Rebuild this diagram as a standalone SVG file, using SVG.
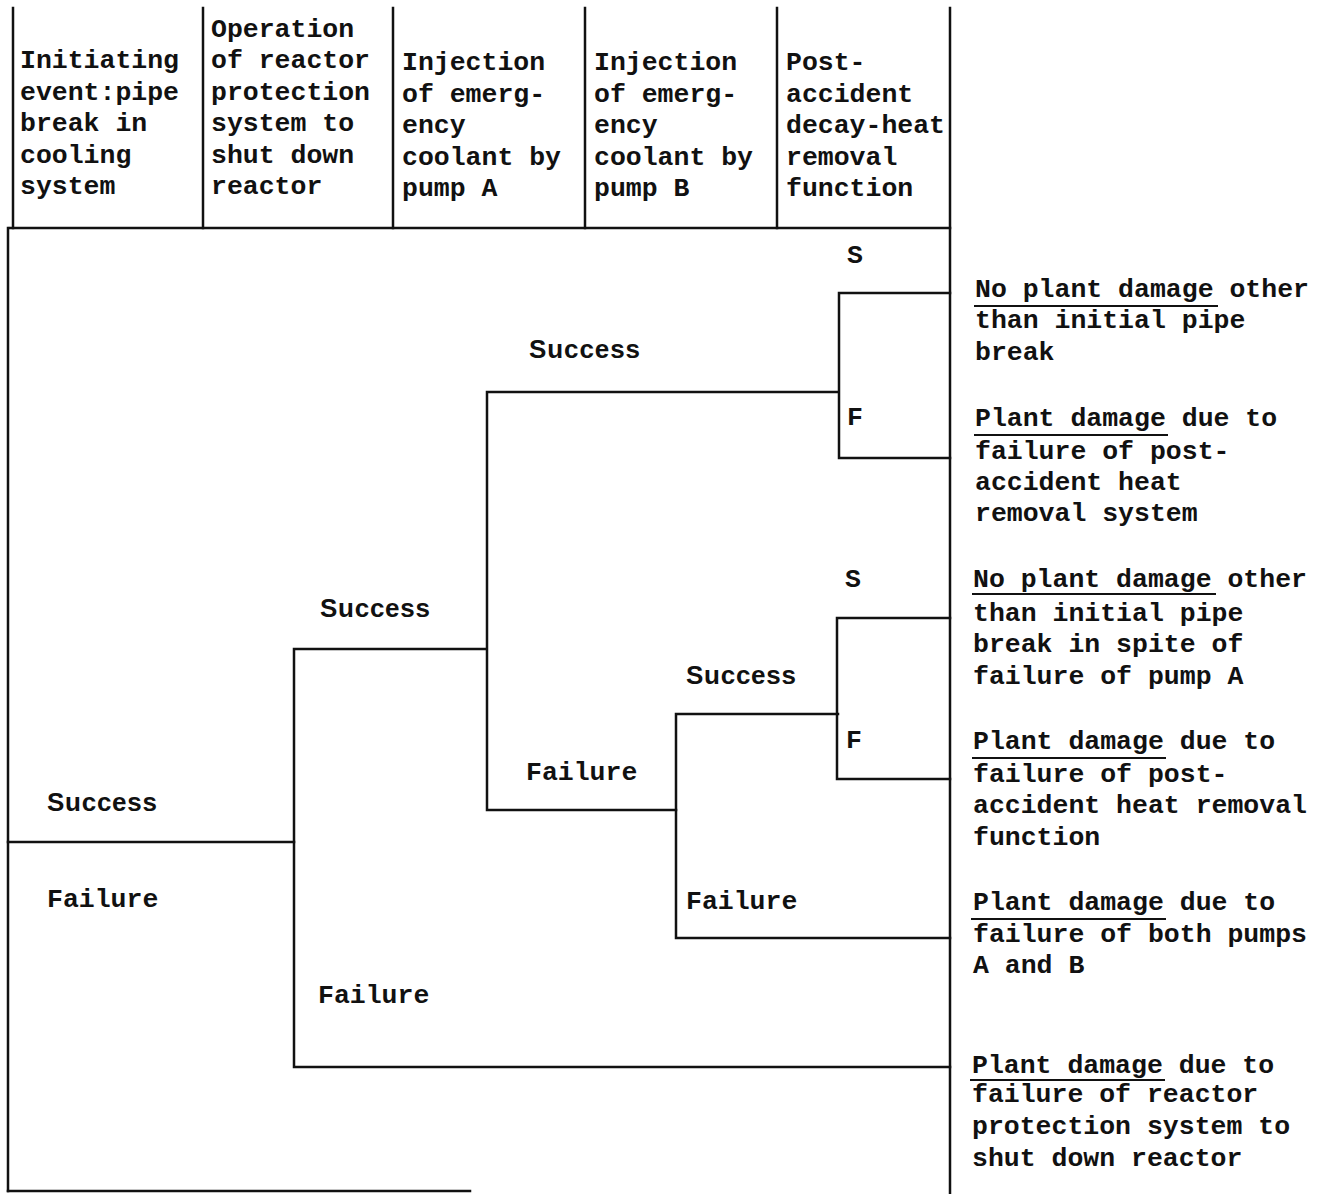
<svg xmlns="http://www.w3.org/2000/svg" width="1321" height="1194" viewBox="0 0 1321 1194">
<style>
.bg{fill:#fff}
.ln{stroke:#111;stroke-width:2.5;fill:none;stroke-linecap:square}
.t{font-family:"Liberation Mono","Courier New",monospace;font-size:26.5px;font-weight:bold;fill:#111}
.s{font-family:"Liberation Sans",Arial,sans-serif;font-size:26px;font-weight:bold;fill:#111}
.u{stroke:#111;stroke-width:2}
</style>
<rect class="bg" x="0" y="0" width="1321" height="1194"/>
<g id="header">
  <g class="ln">
    <line x1="13" y1="8" x2="13" y2="228"/>
    <line x1="203" y1="8" x2="203" y2="228"/>
    <line x1="393" y1="8" x2="393" y2="228"/>
    <line x1="585" y1="8" x2="585" y2="228"/>
    <line x1="777" y1="8" x2="777" y2="228"/>
    <line x1="950" y1="8" x2="950" y2="1194"/>
    <line x1="10" y1="228" x2="950" y2="228"/>
  </g>
  <g id="col1" class="t">
    <text x="20" y="68">Initiating</text>
    <text x="20" y="99.5">event:pipe</text>
    <text x="20" y="131">break in</text>
    <text x="20" y="162.5">cooling</text>
    <text x="20" y="194">system</text>
  </g>
  <g id="col2" class="t">
    <text x="211" y="36.5">Operation</text>
    <text x="211" y="68">of reactor</text>
    <text x="211" y="99.5">protection</text>
    <text x="211" y="131">system to</text>
    <text x="211" y="162.5">shut down</text>
    <text x="211" y="194">reactor</text>
  </g>
  <g id="col3" class="t">
    <text x="402" y="70">Injection</text>
    <text x="402" y="101.5">of emerg-</text>
    <text x="402" y="133">ency</text>
    <text x="402" y="164.5">coolant by</text>
    <text x="402" y="196">pump A</text>
  </g>
  <g id="col4" class="t">
    <text x="594" y="70">Injection</text>
    <text x="594" y="101.5">of emerg-</text>
    <text x="594" y="133">ency</text>
    <text x="594" y="164.5">coolant by</text>
    <text x="594" y="196">pump B</text>
  </g>
  <g id="col5" class="t">
    <text x="786" y="70">Post-</text>
    <text x="786" y="101.5">accident</text>
    <text x="786" y="133">decay-heat</text>
    <text x="786" y="164.5">removal</text>
    <text x="786" y="196">function</text>
  </g>
</g>
<g id="frame" class="ln">
  <line x1="8" y1="228" x2="8" y2="1191"/>
  <line x1="8" y1="1191" x2="470" y2="1191"/>
</g>
<g id="connectors" class="ln">
  <path d="M8 842 H294"/>
  <path d="M486 649 H294 V1067 H950"/>
  <path d="M838 392 H487 V810 H676"/>
  <path d="M950 293 H839 V458 H950"/>
  <path d="M838 714 H676 V938 H950"/>
  <path d="M950 618 H837 V779 H950"/>
</g>
<g id="branch-labels">
  <text class="s" x="47" y="811" textLength="110" lengthAdjust="spacing">Success</text>
  <text class="t" x="47" y="907">Failure</text>
  <text class="s" x="320" y="617" textLength="110" lengthAdjust="spacing">Success</text>
  <text class="t" x="318" y="1003">Failure</text>
  <text class="s" x="529" y="358" textLength="111" lengthAdjust="spacing">Success</text>
  <text class="t" x="526" y="780">Failure</text>
  <text class="s" x="686" y="684" textLength="110" lengthAdjust="spacing">Success</text>
  <text class="t" x="686" y="909">Failure</text>
  <text class="t" x="847" y="263">S</text>
  <text class="t" x="847" y="425">F</text>
  <text class="t" x="845" y="587">S</text>
  <text class="t" x="846" y="748">F</text>
</g>
<g id="outcome1">
  <text class="t" x="975" y="297">No plant damage other</text>
  <text class="t" x="975" y="328">than initial pipe</text>
  <text class="t" x="975" y="360">break</text>
  <line class="u" x1="974" y1="306" x2="1218" y2="306"/>
</g>
<g id="outcome2">
  <text class="t" x="975" y="426">Plant damage due to</text>
  <text class="t" x="975" y="459">failure of post-</text>
  <text class="t" x="975" y="490">accident heat</text>
  <text class="t" x="975" y="521">removal system</text>
  <line class="u" x1="974" y1="435" x2="1168" y2="435"/>
</g>
<g id="outcome3">
  <text class="t" x="973" y="587">No plant damage other</text>
  <text class="t" x="973" y="621">than initial pipe</text>
  <text class="t" x="973" y="652">break in spite of</text>
  <text class="t" x="973" y="684">failure of pump A</text>
  <line class="u" x1="972" y1="594" x2="1216" y2="594"/>
</g>
<g id="outcome4">
  <text class="t" x="973" y="749">Plant damage due to</text>
  <text class="t" x="973" y="782">failure of post-</text>
  <text class="t" x="973" y="813">accident heat removal</text>
  <text class="t" x="973" y="845">function</text>
  <line class="u" x1="972" y1="758" x2="1166" y2="758"/>
</g>
<g id="outcome5">
  <text class="t" x="973" y="910">Plant damage due to</text>
  <text class="t" x="973" y="942">failure of both pumps</text>
  <text class="t" x="973" y="973">A and B</text>
  <line class="u" x1="971" y1="919" x2="1166" y2="919"/>
</g>
<g id="outcome6">
  <text class="t" x="972" y="1073">Plant damage due to</text>
  <text class="t" x="972" y="1102">failure of reactor</text>
  <text class="t" x="972" y="1134">protection system to</text>
  <text class="t" x="972" y="1166">shut down reactor</text>
  <line class="u" x1="970" y1="1080" x2="1165" y2="1080"/>
</g>
</svg>
